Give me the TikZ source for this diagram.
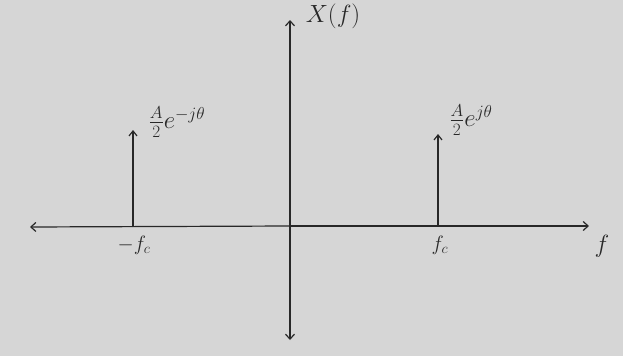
\documentclass[tikz,border=0pt]{standalone}
\usetikzlibrary{arrows.meta}
\definecolor{paper}{RGB}{214,214,214}
\definecolor{ink}{RGB}{40,40,40}
\tikzset{
  axis/.style={draw=ink, line width=1.2pt, -{Straight Barb[length=5pt,width=9pt]}},
  spike/.style={draw=ink, line width=1.2pt, -{Straight Barb[length=5pt,width=8pt]}},
  lbl/.style={text=ink, inner sep=0pt, font=\fontsize{22}{26}\selectfont},
}
\begin{document}
\begin{tikzpicture}[x=1pt,y=-1pt]
  \fill[paper] (0,0) rectangle (623,356);
  \useasboundingbox (0,0) rectangle (623,356);
  % axes
  \coordinate (xl) at (30,227);
  \coordinate (xr) at (589,226);
  \coordinate (yt) at (290,20);
  \coordinate (yb) at (290,340);
  \coordinate (o) at (290,226);
  \draw[axis] (o) -- (xr);
  \draw[axis] (o) -- (xl);
  \draw[axis] (o) -- (yt);
  \draw[axis] (o) -- (yb);
  % spikes
  \coordinate (lb) at (133,227);
  \coordinate (lt) at (133,130);
  \coordinate (rb) at (438,226);
  \coordinate (rt) at (438,134);
  \draw[spike] (lb) -- (lt);
  \draw[spike] (rb) -- (rt);
  % labels
  \node[lbl, font=\fontsize{24}{28}\selectfont] (X) at (333,16) {$X(f)$};
  \node[lbl, font=\fontsize{23}{27}\selectfont] (ll) at (177,122) {$\frac{A}{2}e^{-j\theta}$};
  \node[lbl, font=\fontsize{23}{27}\selectfont] (rl) at (471,120) {$\frac{A}{2}e^{j\theta}$};
  \node[lbl] (mfc) at (134,245) {$-f_c$};
  \node[lbl] (fc) at (440,245) {$f_c$};
  \node[lbl, font=\fontsize{26}{30}\selectfont] (f) at (602,246) {$f$};
\end{tikzpicture}
\end{document}
